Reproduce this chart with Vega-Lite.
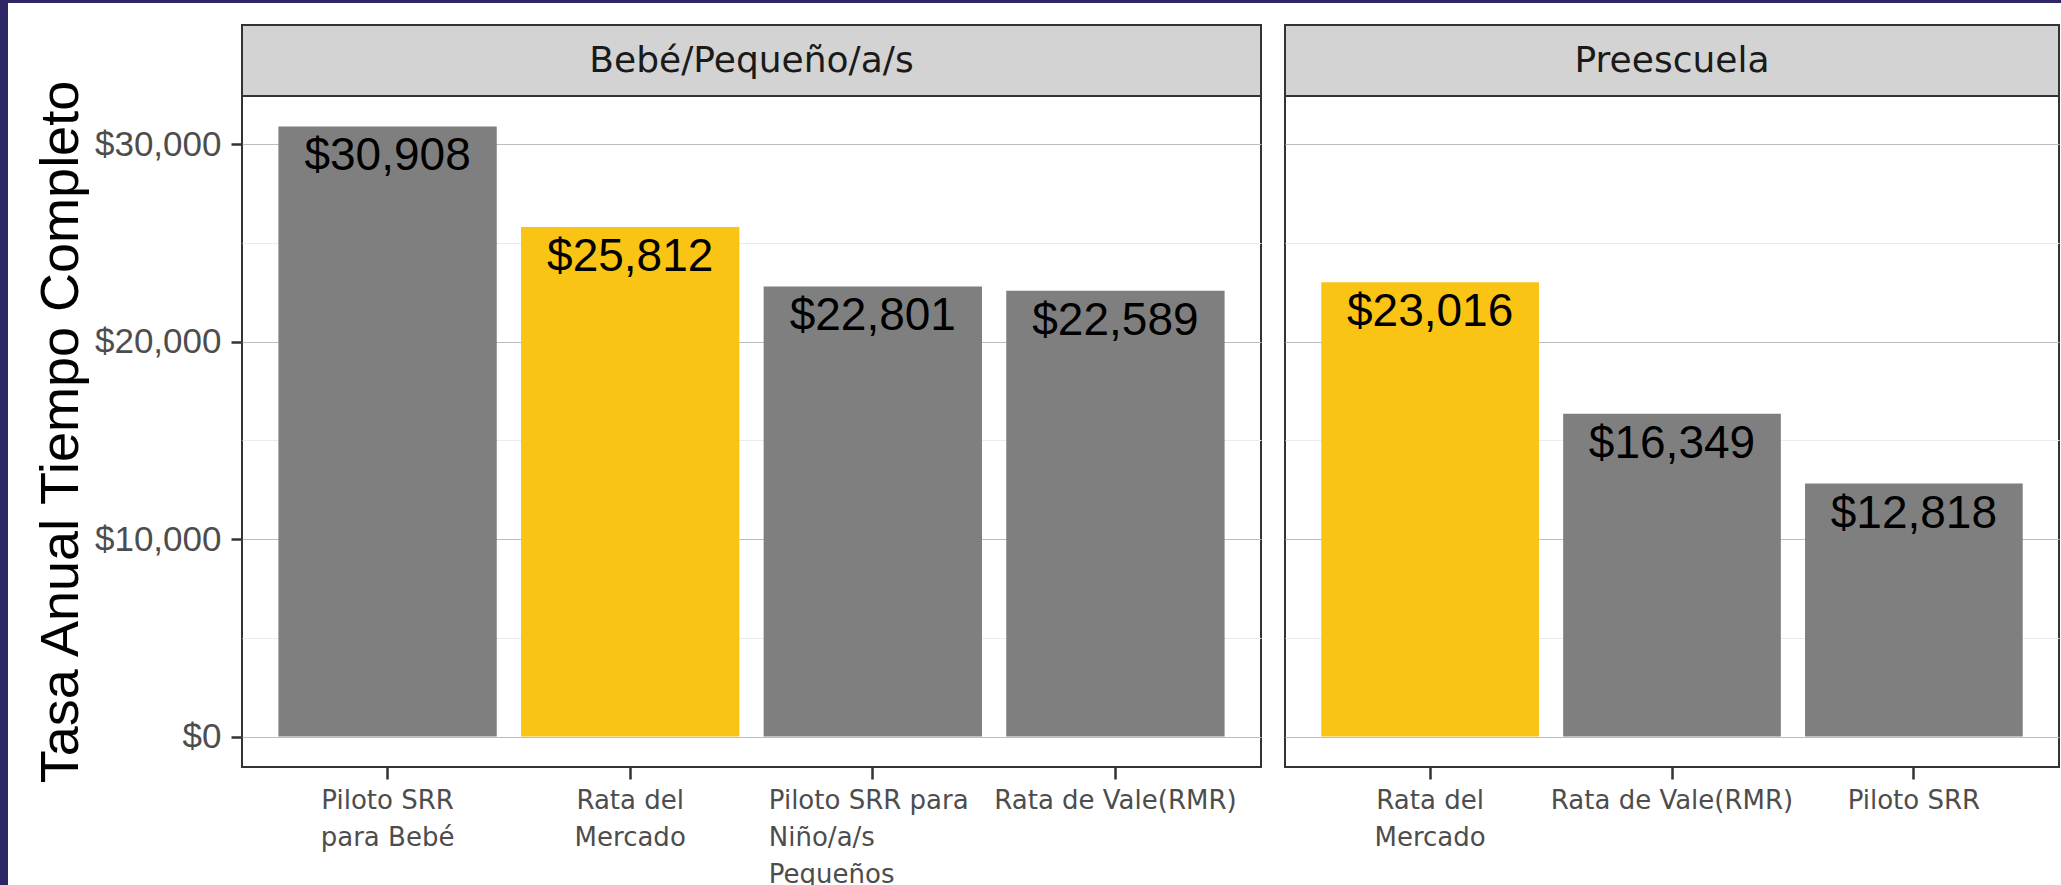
{
  "$schema": "https://vega.github.io/schema/vega-lite/v6.json",
  "background": "white",
  "padding": 0,
  "autosize": {"type": "pad"},
  "config": {
    "view": {"stroke": null},
    "font": "Liberation Sans"
  },
  "datasets": {
    "tasas": [
      {"grupo": "Bebé/Pequeño/a/s", "tasa": "Piloto SRR para Bebé", "valor": 30908},
      {"grupo": "Bebé/Pequeño/a/s", "tasa": "Rata del Mercado", "valor": 25812},
      {"grupo": "Bebé/Pequeño/a/s", "tasa": "Piloto SRR para Niño/a/s Pequeños", "valor": 22801},
      {"grupo": "Bebé/Pequeño/a/s", "tasa": "Rata de Vale(RMR)", "valor": 22589},
      {"grupo": "Preescuela", "tasa": "Rata del Mercado", "valor": 23016},
      {"grupo": "Preescuela", "tasa": "Rata de Vale(RMR)", "valor": 16349},
      {"grupo": "Preescuela", "tasa": "Piloto SRR", "valor": 12818}
    ]
  },
  "spacing": 0,
  "vconcat": [
    {
      "width": 2061,
      "height": 3,
      "data": {"values": []},
      "mark": {"type": "point"},
      "encoding": {},
      "view": {"fill": "#2d2766", "stroke": null}
    },
    {
      "spacing": 25,
      "hconcat": [
        {
          "width": 8,
          "height": 882,
          "data": {"values": []},
          "mark": {"type": "point"},
          "encoding": {},
          "view": {"fill": "#2d2766", "stroke": null}
        },
        {
          "spacing": 21,
          "bounds": "flush",
          "vconcat": [
            {
              "width": 1,
              "height": 1,
              "data": {"values": []},
              "mark": {"type": "point"},
              "encoding": {}
            },
            {
              "spacing": 22,
              "hconcat": [
                {
                  "spacing": 0,
                  "bounds": "flush",
                  "vconcat": [
                    {
                      "width": 1019,
                      "height": 71,
                      "data": {"name": "tasas"},
                      "transform": [
                        {"filter": "datum.grupo === 'Bebé/Pequeño/a/s'"},
                        {"aggregate": [{"op": "count", "as": "n"}], "groupby": ["grupo"]}
                      ],
                      "mark": {"type": "text", "font": "DejaVu Sans", "fontSize": 36, "color": "#1a1a1a"},
                      "encoding": {"text": {"field": "grupo", "type": "nominal"}},
                      "view": {"fill": "#d3d3d3", "stroke": "#333333", "strokeWidth": 2}
                    },
                    {
                      "width": 1019,
                      "height": 671,
                      "view": {"stroke": "#333333", "strokeWidth": 2},
                      "data": {"name": "tasas"},
                      "transform": [{"filter": "datum.grupo === 'Bebé/Pequeño/a/s'"}],
                      "encoding": {
                        "x": {
                          "field": "tasa", "type": "nominal", "sort": null,
                          "scale": {"paddingInner": 0.1, "paddingOuter": 0.15},
                          "axis": {
                            "title": null, "labelAngle": 0, "labelFont": "DejaVu Sans", "labelFontSize": 26,
                            "labelColor": "#4d4d4d", "labelLineHeight": 37, "labelBaseline": "top", "labelPadding": 8,
                            "labelLimit": 500,
                            "labelAlign": {"condition": {"test": "datum.label === 'Piloto SRR para Niño/a/s Pequeños'", "value": "left"}, "value": "center"},
                            "labelOffset": {"condition": {"test": "datum.label === 'Piloto SRR para Niño/a/s Pequeños'", "value": -104}, "value": 0},
                            "labelExpr": "datum.label === 'Piloto SRR para Bebé' ? ['Piloto SRR', 'para Bebé'] : datum.label === 'Rata del Mercado' ? ['Rata del', 'Mercado'] : datum.label === 'Piloto SRR para Niño/a/s Pequeños' ? ['Piloto SRR para', 'Niño/a/s', 'Pequeños'] : datum.label",
                            "tickSize": 12, "tickWidth": 2.5, "tickColor": "#333333", "domain": false
                          }
                        },
                        "y": {
                          "field": "valor", "type": "quantitative",
                          "scale": {"domain": [-1545, 32453], "nice": false, "zero": true},
                          "axis": {
                            "values": [0, 5000, 10000, 15000, 20000, 25000, 30000],
                            "labelExpr": "datum.value % 10000 === 0 ? format(datum.value, '$,.0f') : ''",
                            "title": "Tasa Anual Tiempo Completo",
                            "titleFont": "Liberation Sans", "titleFontSize": 54, "titleFontWeight": "normal",
                            "titleColor": "#000000", "titlePadding": 6,
                            "labelFont": "Liberation Sans", "labelFontSize": 35, "labelColor": "#4d4d4d", "labelPadding": 10,
                            "tickSize": 11, "tickWidth": 2.5, "tickColor": "#333333",
                            "tickOpacity": {"condition": {"test": "datum.value % 10000 === 0", "value": 1}, "value": 0},
                            "domain": false,
                            "grid": true,
                            "gridColor": {"condition": {"test": "datum.value % 10000 === 0", "value": "#bdbdbd"}, "value": "#ebebeb"},
                            "gridWidth": 1.2
                          }
                        }
                      },
                      "layer": [
                        {
                          "mark": {"type": "bar"},
                          "encoding": {
                            "y2": {"datum": 0},
                            "color": {"condition": {"test": "datum.tasa === 'Rata del Mercado'", "value": "#f9c414"}, "value": "#7f7f7f"}
                          }
                        },
                        {
                          "mark": {"type": "text", "baseline": "top", "dy": 8, "fontSize": 46, "font": "Liberation Sans", "color": "#000000"},
                          "encoding": {"text": {"field": "valor", "type": "quantitative", "format": "$,.0f"}}
                        }
                      ]
                    }
                  ]
                },
                {
                  "spacing": 0,
                  "bounds": "flush",
                  "vconcat": [
                    {
                      "width": 774,
                      "height": 71,
                      "data": {"name": "tasas"},
                      "transform": [
                        {"filter": "datum.grupo === 'Preescuela'"},
                        {"aggregate": [{"op": "count", "as": "n"}], "groupby": ["grupo"]}
                      ],
                      "mark": {"type": "text", "font": "DejaVu Sans", "fontSize": 36, "color": "#1a1a1a"},
                      "encoding": {"text": {"field": "grupo", "type": "nominal"}},
                      "view": {"fill": "#d3d3d3", "stroke": "#333333", "strokeWidth": 2}
                    },
                    {
                      "width": 774,
                      "height": 671,
                      "view": {"stroke": "#333333", "strokeWidth": 2},
                      "data": {"name": "tasas"},
                      "transform": [{"filter": "datum.grupo === 'Preescuela'"}],
                      "encoding": {
                        "x": {
                          "field": "tasa", "type": "nominal", "sort": null,
                          "scale": {"paddingInner": 0.1, "paddingOuter": 0.15},
                          "axis": {
                            "title": null, "labelAngle": 0, "labelFont": "DejaVu Sans", "labelFontSize": 26,
                            "labelColor": "#4d4d4d", "labelLineHeight": 37, "labelBaseline": "top", "labelPadding": 8,
                            "labelLimit": 500,
                            "labelExpr": "datum.label === 'Rata del Mercado' ? ['Rata del', 'Mercado'] : datum.label",
                            "tickSize": 12, "tickWidth": 2.5, "tickColor": "#333333", "domain": false
                          }
                        },
                        "y": {
                          "field": "valor", "type": "quantitative",
                          "scale": {"domain": [-1545, 32453], "nice": false, "zero": true},
                          "axis": {
                            "values": [0, 5000, 10000, 15000, 20000, 25000, 30000],
                            "title": null, "labels": false, "ticks": false, "domain": false,
                            "grid": true,
                            "gridColor": {"condition": {"test": "datum.value % 10000 === 0", "value": "#bdbdbd"}, "value": "#ebebeb"},
                            "gridWidth": 1.2
                          }
                        }
                      },
                      "layer": [
                        {
                          "mark": {"type": "bar"},
                          "encoding": {
                            "y2": {"datum": 0},
                            "color": {"condition": {"test": "datum.tasa === 'Rata del Mercado'", "value": "#f9c414"}, "value": "#7f7f7f"}
                          }
                        },
                        {
                          "mark": {"type": "text", "baseline": "top", "dy": 8, "fontSize": 46, "font": "Liberation Sans", "color": "#000000"},
                          "encoding": {"text": {"field": "valor", "type": "quantitative", "format": "$,.0f"}}
                        }
                      ]
                    }
                  ]
                }
              ]
            }
          ]
        }
      ]
    }
  ]
}
